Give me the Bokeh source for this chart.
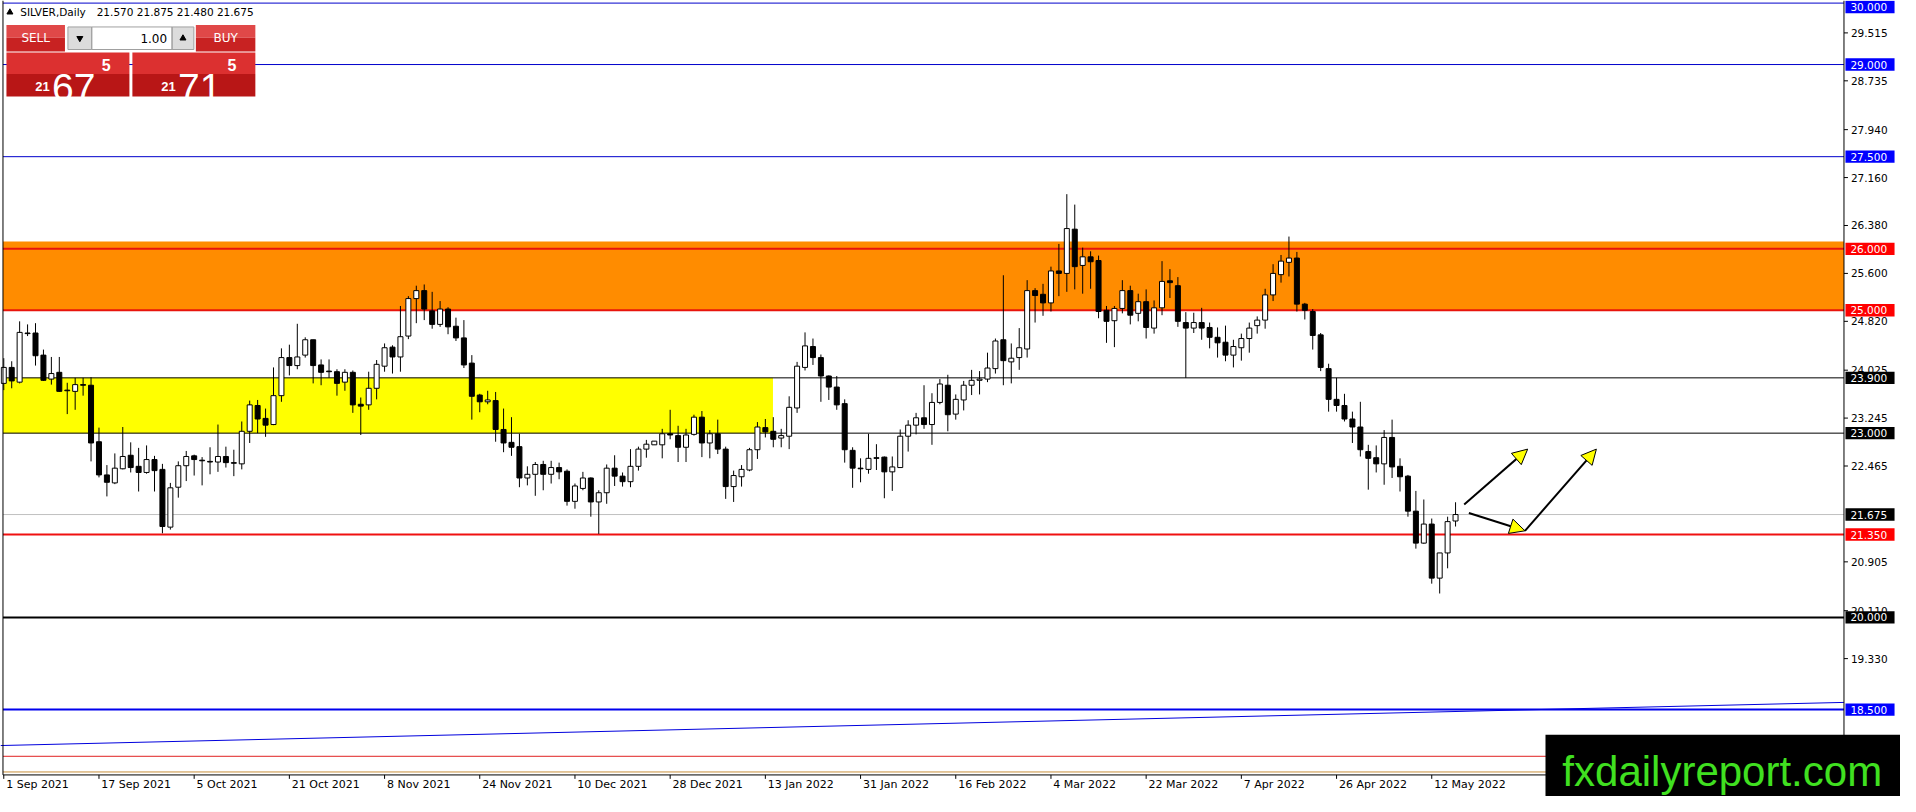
from bokeh.plotting import figure
from bokeh.models import Range1d, Arrow, NormalHead, ColumnDataSource
from bokeh.core.properties import value
from bokeh.embed import file_html
from bokeh.resources import INLINE

# ---------------- data ----------------
date_labels = ["1 Sep 2021", "17 Sep 2021", "5 Oct 2021", "21 Oct 2021", "8 Nov 2021",
               "24 Nov 2021", "10 Dec 2021", "28 Dec 2021", "13 Jan 2022", "31 Jan 2022",
               "16 Feb 2022", "4 Mar 2022", "22 Mar 2022", "7 Apr 2022", "26 Apr 2022",
               "12 May 2022"]
date_bars = [0, 12, 24, 36, 48, 60, 72, 84, 96, 108, 120, 132, 144, 156, 168, 180]

opens = [23.81, 24.07, 23.83, 24.63, 24.63, 24.27, 23.88, 23.99, 23.70, 23.68,
         23.79, 23.78, 22.86, 22.32, 22.19, 22.42, 22.64, 22.46, 22.36, 22.57,
         22.41, 21.47, 22.12, 22.47, 22.63, 22.56, 22.54, 22.53, 22.62, 22.52,
         22.50, 23.03, 23.45, 23.24, 23.14, 23.61, 24.23, 24.10, 24.27, 24.52,
         24.11, 24.01, 24.00, 23.83, 23.99, 23.47, 23.46, 23.73, 24.09, 24.40,
         24.24, 24.58, 25.19, 25.32, 24.99, 24.77, 25.02, 24.74, 24.55, 24.14,
         23.62, 23.51, 23.53, 23.06, 22.85, 22.78, 22.27, 22.33, 22.49, 22.33,
         22.44, 22.38, 21.89, 22.10, 22.27, 21.88, 22.03, 22.43, 22.30, 22.21,
         22.46, 22.74, 22.81, 22.81, 22.99, 22.96, 22.77, 22.98, 23.26, 22.84,
         22.99, 22.74, 22.13, 22.29, 22.40, 22.73, 23.09, 23.03, 22.92, 22.95,
         23.41, 24.07, 24.41, 24.23, 23.93, 23.75, 23.48, 22.72, 22.43, 22.41,
         22.60, 22.61, 22.37, 22.44, 22.95, 23.13, 23.25, 23.14, 23.50, 23.78,
         23.31, 23.54, 23.78, 23.86, 23.88, 24.05, 24.52, 24.16, 24.23, 24.37,
         25.32, 25.26, 25.12, 25.64, 25.60, 26.32, 25.73, 25.87, 25.81, 25.00,
         24.83, 25.03, 25.32, 24.95, 25.14, 24.71, 25.04, 25.48, 25.40, 24.80,
         24.71, 24.80, 24.72, 24.56, 24.48, 24.27, 24.39, 24.54, 24.75, 24.84,
         25.25, 25.58, 25.78, 25.85, 25.10, 24.98, 24.60, 24.05, 23.55, 23.45,
         23.23, 23.10, 22.70, 22.60, 22.50, 22.93, 22.46, 22.30, 21.73, 21.21,
         21.52, 20.64, 21.05, 21.57]
highs = [24.22, 24.17, 24.82, 24.77, 24.79, 24.36, 24.24, 24.24, 23.82, 23.90,
         23.90, 23.91, 23.09, 22.48, 22.67, 23.10, 22.85, 22.76, 22.80, 22.63,
         22.50, 22.19, 22.54, 22.71, 22.65, 22.61, 22.77, 23.14, 22.78, 22.73,
         23.19, 23.53, 23.54, 23.40, 24.07, 24.38, 24.44, 24.78, 24.56, 24.52,
         24.20, 24.20, 24.04, 24.04, 24.02, 23.58, 24.00, 24.19, 24.46, 24.43,
         25.07, 25.23, 25.40, 25.42, 25.30, 25.15, 25.05, 24.88, 24.84, 24.27,
         23.64, 23.69, 23.67, 23.40, 23.26, 22.99, 22.46, 22.53, 22.55, 22.55,
         22.52, 22.41, 22.18, 22.37, 22.28, 22.07, 22.49, 22.64, 22.36, 22.74,
         22.78, 22.89, 22.87, 23.07, 23.38, 23.12, 23.07, 23.30, 23.36, 23.05,
         23.22, 22.78, 22.39, 22.48, 22.76, 23.18, 23.23, 23.26, 23.07, 23.60,
         24.16, 24.64, 24.54, 24.28, 23.94, 23.93, 23.55, 22.77, 22.59, 22.99,
         22.82, 22.62, 22.62, 23.06, 23.21, 23.33, 23.78, 23.65, 23.88, 23.95,
         23.63, 23.85, 24.03, 24.01, 24.31, 24.54, 25.57, 24.46, 24.71, 25.49,
         25.36, 25.43, 25.71, 26.08, 26.89, 26.72, 26.02, 25.96, 25.89, 25.07,
         25.07, 25.49, 25.40, 25.27, 25.34, 25.16, 25.80, 25.67, 25.54, 24.97,
         24.96, 25.04, 24.80, 24.72, 24.75, 24.52, 24.62, 24.80, 24.90, 25.35,
         25.75, 25.90, 26.20, 25.95, 25.12, 25.02, 24.63, 24.13, 23.90, 23.64,
         23.35, 23.51, 22.81, 22.80, 23.05, 23.22, 22.59, 22.32, 22.06, 21.92,
         21.61, 21.05, 21.64, 21.875]
lows = [23.70, 23.73, 23.81, 24.58, 24.10, 23.85, 23.79, 23.67, 23.31, 23.38,
        23.61, 22.54, 22.28, 21.97, 22.17, 22.41, 22.36, 22.05, 22.34, 22.05,
        21.37, 21.43, 21.95, 22.22, 22.31, 22.15, 22.33, 22.37, 22.44, 22.30,
        22.41, 22.84, 23.00, 22.94, 23.13, 23.51, 23.94, 24.04, 24.23, 23.81,
        23.78, 23.90, 23.61, 23.69, 23.33, 22.97, 23.38, 23.55, 24.00, 23.97,
        24.00, 24.53, 24.79, 24.84, 24.70, 24.73, 24.61, 24.50, 24.06, 23.22,
        23.34, 23.47, 22.86, 22.69, 22.63, 22.12, 22.15, 21.98, 22.07, 22.18,
        22.25, 21.82, 21.77, 22.07, 21.64, 21.36, 21.85, 22.14, 22.13, 22.12,
        22.39, 22.60, 22.81, 22.59, 22.90, 22.53, 22.53, 22.96, 22.61, 22.59,
        22.66, 21.93, 21.88, 22.13, 22.38, 22.58, 22.93, 22.77, 22.77, 22.74,
        23.33, 24.02, 24.11, 23.51, 23.54, 23.38, 22.52, 22.11, 22.20, 22.34,
        22.40, 21.94, 22.06, 22.44, 22.70, 22.98, 23.07, 22.81, 23.47, 23.03,
        23.22, 23.37, 23.62, 23.63, 23.83, 23.97, 23.78, 23.81, 24.03, 24.23,
        24.80, 24.91, 24.98, 25.23, 25.30, 25.34, 25.27, 25.35, 24.87, 24.47,
        24.40, 24.95, 24.77, 24.82, 24.54, 24.62, 24.92, 25.20, 24.73, 23.90,
        24.63, 24.52, 24.38, 24.23, 24.17, 24.07, 24.18, 24.31, 24.62, 24.70,
        25.15, 25.45, 25.55, 24.98, 24.85, 24.36, 24.01, 23.35, 23.35, 23.19,
        22.84, 22.62, 22.08, 22.36, 22.16, 22.27, 22.05, 21.64, 21.12, 21.20,
        20.55, 20.39, 20.80, 21.48]
closes = [24.07, 23.85, 24.64, 24.62, 24.26, 23.86, 23.97, 23.68, 23.69, 23.79,
          23.78, 22.84, 22.32, 22.20, 22.43, 22.62, 22.44, 22.36, 22.57, 22.39,
          21.48, 22.11, 22.47, 22.62, 22.57, 22.55, 22.53, 22.62, 22.52, 22.51,
          23.03, 23.46, 23.23, 23.13, 23.61, 24.23, 24.10, 24.24, 24.52, 24.10,
          23.99, 24.00, 23.81, 23.99, 23.46, 23.44, 23.73, 24.12, 24.39, 24.24,
          24.57, 25.19, 25.32, 25.02, 24.77, 25.02, 24.73, 24.55, 24.11, 23.60,
          23.51, 23.54, 23.06, 22.84, 22.77, 22.27, 22.33, 22.49, 22.33, 22.44,
          22.37, 21.89, 22.14, 22.27, 21.88, 22.03, 22.43, 22.30, 22.21, 22.46,
          22.74, 22.82, 22.87, 22.99, 22.97, 22.77, 22.97, 23.26, 22.84, 22.99,
          22.74, 22.13, 22.31, 22.41, 22.73, 23.10, 23.02, 22.90, 22.96, 23.42,
          24.09, 24.42, 24.23, 23.93, 23.75, 23.46, 22.73, 22.43, 22.42, 22.59,
          22.59, 22.37, 22.45, 22.95, 23.13, 23.25, 23.14, 23.50, 23.80, 23.30,
          23.55, 23.78, 23.86, 23.88, 24.06, 24.50, 24.18, 24.22, 24.39, 25.32,
          25.24, 25.12, 25.64, 25.60, 26.33, 25.71, 25.87, 25.79, 24.98, 24.82,
          25.03, 25.32, 24.92, 25.14, 24.72, 25.04, 25.47, 25.45, 24.82, 24.71,
          24.80, 24.71, 24.56, 24.47, 24.27, 24.41, 24.54, 24.71, 24.84, 25.25,
          25.60, 25.80, 25.85, 25.10, 25.00, 24.59, 24.07, 23.55, 23.45, 23.23,
          23.10, 22.73, 22.59, 22.50, 22.93, 22.45, 22.29, 21.73, 21.21, 21.52,
          20.64, 21.05, 21.56, 21.675]

scale_ticks = [29.515, 28.735, 27.940, 27.160, 26.380, 25.600, 24.820, 24.025,
               23.245, 22.465, 20.905, 20.110, 19.330]

blue_levels = [30.0, 29.0, 27.5]
red_levels = [26.0, 25.0]
black_levels = [23.9, 23.0]
support_level = [21.35]
round_level = [20.0]
low_blue_level = [18.5]
bid_level = [21.675]
bottom_red_level = [17.74]
bottom_tan_level = [17.485]
orange_zone = [25.0, 26.12]
yellow_zone = [23.0, 23.9]
yellow_zone_end_bar = [96.96]
trend_bars = [-0.41, 231.96]
trend_prices = [17.915, 18.617]

box_levels = [30.0, 29.0, 27.5, 26.0, 25.0, 23.9, 23.0, 21.675, 21.35, 20.0, 18.5]
box_colors = ["#0000ff", "#0000ff", "#0000ff", "#ff0000", "#ff0000", "black", "black",
              "black", "#ff0000", "black", "#0000ff"]

arrow_starts_bar = [184.09, 184.68, 191.75]
arrow_starts_price = [21.84, 21.70, 21.41]
arrow_ends_bar = [192.09, 191.75, 200.75]
arrow_ends_price = [22.74, 21.41, 22.74]

# ---------------- geometry (reference-pixel helpers for decorations) ----------------
PX_PER_BAR = 8.0
PX_PER_UNIT = 62.67


def bx(px):
    return (px - 3.3) / PX_PER_BAR


def py(pyy):
    return 25.0 - (pyy - 316.0) / PX_PER_UNIT


VIEW_X0, VIEW_X1 = bx(0), bx(1916)
VIEW_Y0, VIEW_Y1 = py(812), py(0)
CHART_L, CHART_R = bx(2.5), bx(1859)
CHART_B = py(790)
HALF_BOX = 6.3 / PX_PER_UNIT

p = figure(width=1900, height=796,
           x_range=Range1d(VIEW_X0, VIEW_X1), y_range=Range1d(VIEW_Y0, VIEW_Y1),
           x_axis_location=None, y_axis_location=None, min_border=0,
           toolbar_location=None, output_backend="svg",
           background_fill_color="white", border_fill_color="white",
           outline_line_color=None)
p.grid.visible = False

FONT = value("DejaVu Sans")

# zones
p.quad(left=[CHART_L], right=[CHART_R], bottom=[orange_zone[0]], top=[orange_zone[1]],
       fill_color="#ff8c00", line_color=None)
p.quad(left=[CHART_L], right=yellow_zone_end_bar, bottom=[yellow_zone[0]], top=[yellow_zone[1]],
       fill_color="#ffff00", line_color=None)


def hlines(levels, color, width):
    p.segment(x0=[CHART_L] * len(levels), x1=[CHART_R] * len(levels), y0=levels, y1=levels,
              line_color=color, line_width=width)


hlines(blue_levels, "#0000cc", 1)
hlines(bid_level, "#c0c0c0", 1)
hlines(black_levels, "black", 1)
hlines(red_levels, "#e8140c", 2)
hlines(support_level, "#f01010", 2)
hlines(round_level, "black", 2)
hlines(low_blue_level, "#0000ee", 2)
hlines(bottom_red_level, "#e02020", 1)
hlines(bottom_tan_level, "#c8903c", 1)
p.line(x=trend_bars, y=trend_prices, line_color="#0000dd", line_width=1)

# candles
idx = list(range(len(opens)))
src = ColumnDataSource(dict(
    x=idx,
    high=highs,
    low=lows,
    top=[max(o, c) for o, c in zip(opens, closes)],
    bottom=[min(o, c) for o, c in zip(opens, closes)],
    fill=["white" if c >= o else "black" for o, c in zip(opens, closes)],
))
p.segment(x0="x", y0="low", x1="x", y1="high", source=src, line_color="black", line_width=1)
p.vbar(x="x", width=0.63, top="top", bottom="bottom", fill_color="fill",
       line_color="black", line_width=1, source=src)

# arrows
for xs0, ys0, xe0, ye0 in zip(arrow_starts_bar, arrow_starts_price, arrow_ends_bar, arrow_ends_price):
    p.add_layout(Arrow(x_start=xs0, y_start=ys0, x_end=xe0, y_end=ye0,
                       line_color="black", line_width=2,
                       end=NormalHead(size=15, fill_color="#ffff00", line_color="black", line_width=1)))

# chart borders (left, right scale separator, bottom)
p.segment(x0=[CHART_L, CHART_R, CHART_L], y0=[CHART_B, CHART_B, CHART_B],
          x1=[CHART_L, CHART_R, CHART_R], y1=[VIEW_Y1, VIEW_Y1, CHART_B],
          line_color="black", line_width=1)

# price scale: ticks and labels
p.segment(x0=[CHART_R] * len(scale_ticks), x1=[bx(1863)] * len(scale_ticks),
          y0=scale_ticks, y1=scale_ticks, line_color="black", line_width=1)
p.text(x=[bx(1866)] * len(scale_ticks), y=scale_ticks, text=["%.3f" % t for t in scale_ticks],
       text_font=FONT, text_font_size=value("10.5px"), text_color="black",
       text_align="left", text_baseline="middle")

# boxed level labels
box_y = [min(lv, py(6.6)) for lv in box_levels]
p.quad(left=[bx(1860.5)] * len(box_levels), right=[bx(1910)] * len(box_levels),
       bottom=[y - HALF_BOX for y in box_y], top=[y + HALF_BOX for y in box_y],
       fill_color=box_colors, line_color=None)
p.text(x=[bx(1865.5)] * len(box_levels), y=box_y, text=["%.3f" % lv for lv in box_levels],
       text_font=FONT, text_font_size=value("10.5px"), text_color="white",
       text_align="left", text_baseline="middle")

# date scale: ticks and labels
p.segment(x0=date_bars, x1=date_bars, y0=[CHART_B] * len(date_bars), y1=[py(794)] * len(date_bars),
          line_color="black", line_width=1)
p.text(x=[b + 0.3 for b in date_bars], y=[py(793.5)] * len(date_bars), text=date_labels,
       text_font=FONT, text_font_size=value("11px"), text_color="black",
       text_align="left", text_baseline="top")

# ---------------- trading panel (decoration) ----------------
rects = [  # x0, y0, x1, y1 (reference pixels), color
    (6, 25, 65, 38, "#e04848"), (6, 38, 65, 52, "#c82222"),
    (197, 25, 257, 38, "#e04848"), (197, 38, 257, 52, "#c82222"),
    (68, 27, 92, 50, "#dcdcdc"), (92, 27, 173, 50, "white"), (173, 27, 195, 50, "#dcdcdc"),
    (6, 53, 130, 75, "#dc3030"), (6, 75, 130, 98, "#b81616"),
    (133, 53, 257, 75, "#dc3030"), (133, 75, 257, 98, "#b81616"),
]
p.quad(left=[bx(r[0]) for r in rects], right=[bx(r[2]) for r in rects],
       top=[py(r[1]) for r in rects], bottom=[py(r[3]) for r in rects],
       fill_color=[r[4] for r in rects], line_color=None)
p.quad(left=[bx(68), bx(92), bx(173)], right=[bx(92), bx(173), bx(195)],
       top=[py(27)] * 3, bottom=[py(50)] * 3, fill_color=None, line_color="#a0a0a0")
p.scatter(x=[bx(80)], y=[py(38.5)], marker="inverted_triangle", size=6, color="black")
p.scatter(x=[bx(184)], y=[py(38.5)], marker="triangle", size=6, color="black")
p.scatter(x=[bx(9.5)], y=[py(12)], marker="triangle", size=6, color="black")


def txt(px_, py_, t, size, color="white", font="DejaVu Sans", align="left", base="middle", style="normal"):
    p.text(x=[bx(px_)], y=[py(py_)], text=[t], text_align=align, text_baseline=base,
           text_font=value(font), text_font_size=value(size), text_color=color,
           text_font_style=style)


txt(20, 12, "SILVER,Daily", "10.5px", "black")
txt(97, 12, "21.570 21.875 21.480 21.675", "10.5px", "black")
txt(35.5, 38.5, "SELL", "12px", align="center")
txt(227, 38.5, "BUY", "12px", align="center")
txt(168, 38.5, "1.00", "12px", "black", align="right")
BIG = "Liberation Sans"
txt(35, 88, "21", "13px", font=BIG, base="alphabetic", style="bold")
txt(52, 89, "67", "39px", font=BIG, base="alphabetic")
txt(102, 65.5, "5", "16px", font=BIG, style="bold")
txt(162, 88, "21", "13px", font=BIG, base="alphabetic", style="bold")
txt(179, 89, "71", "39px", font=BIG, base="alphabetic")
txt(229, 65.5, "5", "16px", font=BIG, style="bold")

# watermark box
p.quad(left=[bx(1558)], right=[VIEW_X1], top=[py(749)], bottom=[VIEW_Y0],
       fill_color="black", line_color=None)
txt(1575, 787, "fxdailyreport.com", "42px", "#40e020", font="Liberation Sans", base="alphabetic")

open("out.html", "w").write(file_html(p, INLINE))
